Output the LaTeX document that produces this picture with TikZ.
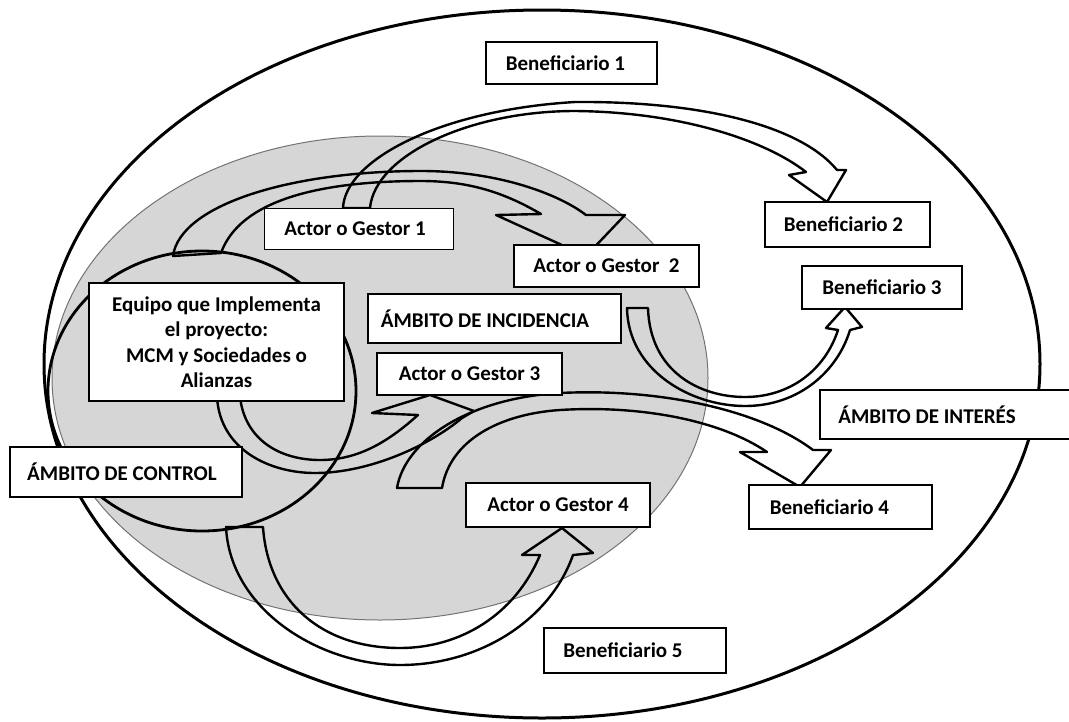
\documentclass[tikz,border=0pt]{standalone}
\usepackage{fontspec}
\setmainfont{Carlito}
\begin{document}
\begin{tikzpicture}[x=1pt,y=-1pt,
  box/.style={draw=black, line width=1.6pt, fill=white, inner sep=0pt,
    font=\bfseries\fontsize{21}{25.5}\selectfont},
  blockarrow/.style={draw=black, line width=2.4pt, line join=round},
  ring/.style={draw=black, line width=3pt}]
\useasboundingbox (0,0) rectangle (1069,721);

% Ambito de incidencia (grey)
\fill[black!16] (380,378) ellipse [x radius=328, y radius=242];
\draw[black!55, line width=1pt] (380,378) ellipse [x radius=328, y radius=242];
% Ambito de interes (outer)
\draw[ring] (542,364) ellipse [x radius=498, y radius=354];
% Ambito de control (circle)
\draw[ring, line width=2.8pt] (202,391) ellipse [x radius=154, y radius=140];

% Curved block arrows
\draw[blockarrow] (173,256) .. controls (180,205) and (290,171) .. (421,171)
  .. controls (500,171) and (560,195) .. (586,215) -- (625,215) -- (586,256)
  -- (496,215) -- (541,214) .. controls (505,193) and (470,181) .. (421,181)
  .. controls (320,181) and (240,200) .. (221,253) -- cycle;
\draw[blockarrow] (343,208) .. controls (345,160) and (440,110) .. (575,102)
  .. controls (700,101) and (800,125) .. (837,170) -- (846,170) -- (827,202)
  -- (789,175) -- (806,172) .. controls (765,140) and (680,112) .. (575,111)
  .. controls (470,111) and (375,155) .. (370,208) -- cycle;
\draw[blockarrow] (627,308) .. controls (628,370) and (690,406) .. (745,406)
  .. controls (800,406) and (838,370) .. (850,330) -- (862,327) -- (845,307)
  -- (826,328) -- (838,330) .. controls (825,370) and (790,397) .. (745,397)
  .. controls (700,397) and (650,372) .. (648,308) -- cycle;
\draw[blockarrow] (217,397) .. controls (220,450) and (270,473) .. (315,473)
  .. controls (370,473) and (430,445) .. (462,418) -- (474,411) -- (430,395)
  -- (372,413) -- (418,415) .. controls (390,440) and (360,460) .. (320,460)
  .. controls (280,460) and (245,440) .. (240,397) -- cycle;
\draw[blockarrow] (397,488) .. controls (405,440) and (470,398) .. (560,393)
  .. controls (660,388) and (760,410) .. (813,450) -- (831,450) -- (800,487)
  -- (740,452) -- (767,452) .. controls (720,420) and (640,405) .. (560,410)
  .. controls (500,414) and (450,440) .. (442,488) -- cycle;
\draw[blockarrow] (226,527) .. controls (230,610) and (320,665) .. (400,665)
  .. controls (480,665) and (550,620) .. (573,555) -- (593,553) -- (562,528)
  -- (522,555) -- (540,555) .. controls (515,615) and (460,648) .. (400,648)
  .. controls (320,648) and (268,600) .. (263,527) -- cycle;

% Boxes
\node[box, minimum width=171, minimum height=42] (ben1) at (571.5,63) {\hspace*{-12pt}Beneficiario 1};
\node[box, minimum width=189, minimum height=41] (act1) at (359,229) {\hspace*{-8pt}Actor o Gestor 1};
\node[box, minimum width=165, minimum height=45] (ben2) at (847.5,224.5) {\hspace*{-8pt}Beneficiario 2};
\node[box, minimum width=185, minimum height=42] (act2) at (606.5,266) {Actor o Gestor\ \ 2};
\node[box, minimum width=160, minimum height=43] (ben3) at (882,287.5) {Beneficiario 3};
\node[box, minimum width=253, minimum height=49] (incid) at (494.5,318.5) {\hspace*{-19pt}ÁMBITO DE INCIDENCIA};
\node[box, minimum width=255, minimum height=118, align=center] (equipo) at (216.5,342)
  {Equipo que Implementa\\el proyecto:\\MCM y Sociedades o\\Alianzas};
\node[box, minimum width=185, minimum height=42] (act3) at (469.5,374) {Actor o Gestor 3};
\node[box, minimum width=255, minimum height=49] (interes) at (947.5,414.5) {\hspace*{-41pt}ÁMBITO DE INTERÉS};
\node[box, minimum width=232, minimum height=50] (control) at (126,472) {\hspace*{-8pt}ÁMBITO DE CONTROL};
\node[box, minimum width=184, minimum height=44] (act4) at (558,505) {Actor o Gestor 4};
\node[box, minimum width=183, minimum height=44.5] (ben4) at (840.5,507) {\hspace*{-22pt}Beneficiario 4};
\node[box, minimum width=182, minimum height=45] (ben5) at (635,650.5) {\hspace*{-24pt}Beneficiario 5};
\end{tikzpicture}
\end{document}
